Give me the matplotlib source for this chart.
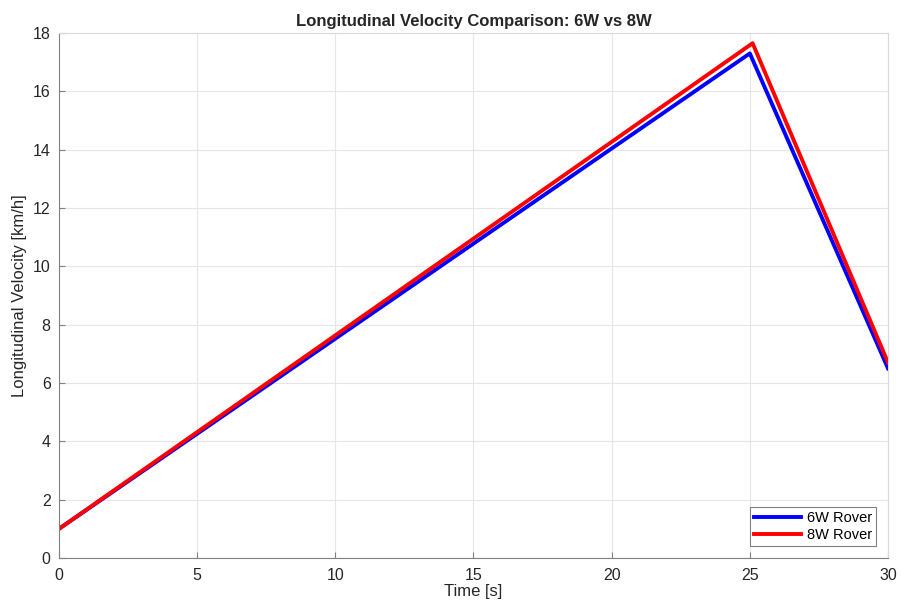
import numpy as np
import matplotlib.pyplot as plt

plt.rcParams["font.family"] = ["Liberation Sans", "DejaVu Sans"]

# Velocity profiles
t_6w = [0, 25, 30]
v_6w = [1.0, 17.3, 6.5]
t_8w = [0, 25.1, 30]
v_8w = [1.0, 17.65, 6.7]

fig = plt.figure(figsize=(9.03, 6.10), dpi=100)
ax = fig.add_axes([0.0653, 0.0852, 0.9181, 0.8607])

ax.plot(t_6w, v_6w, color="#0000ff", linewidth=2.8, label="6W Rover")
ax.plot(t_8w, v_8w, color="#ff0000", linewidth=2.8, label="8W Rover")

ax.set_xlim(0, 30)
ax.set_ylim(0, 18)
ax.set_xticks(np.arange(0, 31, 5))
ax.set_yticks(np.arange(0, 19, 2))
ax.grid(True, color="#e6e6e6", linewidth=0.8)
ax.set_axisbelow(True)

for side in ["left", "bottom"]:
    ax.spines[side].set_color("#808080")
for side in ["top", "right"]:
    ax.spines[side].set_color("#d9d9d9")
ax.tick_params(direction="in", length=4, colors="#808080", labelcolor="#262626",
               labelsize=11.5, top=False, right=False)
ax.tick_params(axis="x", pad=7)
ax.tick_params(axis="y", pad=6)

ax.set_title("Longitudinal Velocity Comparison: 6W vs 8W", fontsize=12,
             fontweight="bold", color="#262626", pad=5)
ax.set_xlabel("Time [s]", fontsize=12, color="#262626", labelpad=1)
ax.set_ylabel("Longitudinal Velocity [km/h]", fontsize=12, color="#262626", labelpad=4)

leg = ax.legend(loc="lower right", fontsize=10.5, fancybox=False, framealpha=1,
                edgecolor="#808080", handlelength=3.2, borderpad=0.3,
                labelspacing=0.2, handletextpad=0.4, borderaxespad=0.8)
leg.get_frame().set_linewidth(0.8)

fig.savefig("out.png", dpi=100)
